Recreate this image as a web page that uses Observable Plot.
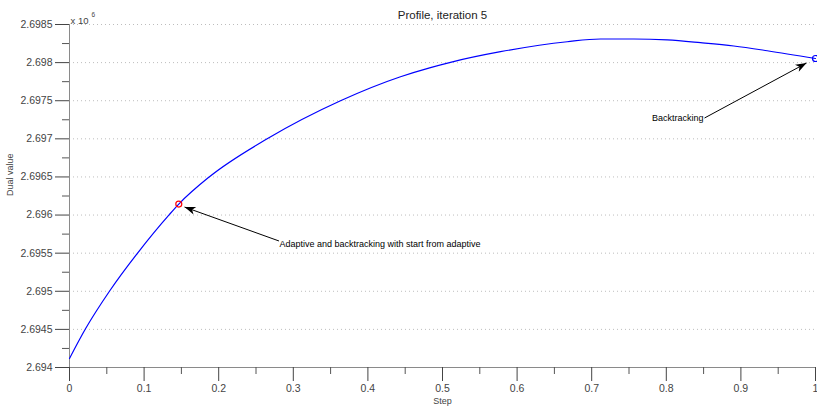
<!DOCTYPE html>
<html><head><meta charset="utf-8">
<script src="https://cdn.jsdelivr.net/npm/d3@7"></script>
<script src="https://cdn.jsdelivr.net/npm/@observablehq/plot@0.6"></script>
<style>body{margin:0;background:#fff} #chart svg{display:block}</style>
</head><body><div id="chart"></div>
<script>
// Data (values in units of 10^6)
const steps = [0, 0.02145, 0.05402, 0.09155, 0.13405, 0.14651, 0.18767, 0.26501, 0.36327, 0.4437, 0.48391, 0.51072, 0.57775, 0.66716, 0.7118, 0.75643, 0.80121, 0.84584, 0.89048, 0.93525, 1.0];
const dualValues = [2.694119, 2.694508, 2.695007, 2.695505, 2.696009, 2.696144, 2.696503, 2.697001, 2.6975, 2.697815, 2.697935, 2.698004, 2.698143, 2.698274, 2.69831, 2.69831, 2.698297, 2.698261, 2.698218, 2.698156, 2.698054];

const markerSteps = [0.14651, 1.0];
const markerValues = [2.696144, 2.698054];
const markerColors = ["#ff0000", "#0000ff"];

const yTicks = [2.694, 2.6945, 2.695, 2.6955, 2.696, 2.6965, 2.697, 2.6975, 2.698, 2.6985];
const yTickLabels = ["2.694", "2.6945", "2.695", "2.6955", "2.696", "2.6965", "2.697", "2.6975", "2.698", "2.6985"];
const yMinorTicks = [2.69425, 2.69475, 2.69525, 2.69575, 2.69625, 2.69675, 2.69725, 2.69775, 2.69825];
const xTicks = [0, 0.1, 0.2, 0.3, 0.4, 0.5, 0.6, 0.7, 0.8, 0.9, 1];
const xTickLabels = ["0", "0.1", "0.2", "0.3", "0.4", "0.5", "0.6", "0.7", "0.8", "0.9", "1"];
const xMinorTicks = [0.05, 0.15, 0.25, 0.35, 0.45, 0.55, 0.65, 0.75, 0.85, 0.95];

const titleText = "Profile, iteration 5";
const xLabel = "Step";
const yLabel = "Dual value";
const exponentBase = "x 10";
const exponentPower = "6";

const annotationTexts = ["Adaptive and backtracking with start from adaptive", "Backtracking"];
const annotationTextX = [0.2815, 0.8499];
const annotationTextY = [2.695619, 2.697273];
const arrowFromX = [0.2808, 0.8512];
const arrowFromY = [2.69566, 2.697273];
const arrowToX = [0.1542, 0.988];
const arrowToY = [2.696105, 2.697995];

const curve = steps.map((s, i) => ({step: s, value: dualValues[i]}));
const markers = markerSteps.map((s, i) => ({step: s, value: markerValues[i], color: markerColors[i]}));
const annotations = annotationTexts.map((t, i) => ({text: t, x: annotationTextX[i], y: annotationTextY[i]}));
const arrows = arrowFromX.map((x, i) => ({x1: x, y1: arrowFromY[i], x2: arrowToX[i], y2: arrowToY[i]}));

const font = "'Liberation Sans', Arial, Helvetica, sans-serif";

function filledArrow(color, context) {
  const m = d3.create("svg:marker")
    .attr("viewBox", "-12 -5 13 10")
    .attr("markerWidth", 13)
    .attr("markerHeight", 10)
    .attr("markerUnits", "userSpaceOnUse")
    .attr("refX", 0).attr("refY", 0)
    .attr("orient", "auto");
  m.append("path").attr("d", "M0,0L-11,-4L-8,0L-11,4Z").attr("fill", color).attr("stroke", "none");
  return m.node();
}

const noLabel = () => "";

const chart = Plot.plot({
  width: 817,
  height: 407,
  marginLeft: 69,
  marginRight: 2,
  marginTop: 24,
  marginBottom: 40,
  style: {fontFamily: font, background: "#fff", overflow: "visible"},
  x: {domain: [0, 1], axis: null},
  y: {domain: [2.694, 2.6985], axis: null},
  marks: [
    Plot.ruleY(yTicks, {stroke: "#bdbdbd", strokeDasharray: "1,3"}),
    Plot.ruleX([0], {y1: 2.694, y2: 2.6985, stroke: "#8a8a8a"}),
    Plot.ruleY([2.694], {stroke: "#8a8a8a"}),
    Plot.axisY(yMinorTicks, {tickSize: 7, tickFormat: noLabel, stroke: "#555", label: null}),
    Plot.axisY(yTicks, {tickSize: 14, tickPadding: 3, tickFormat: (d) => yTickLabels[yTicks.indexOf(d)], fontSize: 10.5, color: "#444", label: null}),
    Plot.axisX(xMinorTicks, {tickSize: 7, tickFormat: noLabel, stroke: "#555", label: null}),
    Plot.axisX(xTicks, {tickSize: 14, tickPadding: 3, tickFormat: (d) => xTickLabels[xTicks.indexOf(d)], fontSize: 10.5, color: "#444", label: null}),
    Plot.line(curve, {x: "step", y: "value", stroke: "#0000ff", strokeWidth: 1.2, curve: "monotone-x"}),
    Plot.dot(markers, {x: "step", y: "value", stroke: "color", r: 3, strokeWidth: 1.2}),
    Plot.link(arrows, {x1: "x1", y1: "y1", x2: "x2", y2: "y2", stroke: "#000", strokeWidth: 1, markerEnd: filledArrow}),
    Plot.text(annotations.slice(0, 1), {x: "x", y: "y", text: "text", textAnchor: "start", fontSize: 9, fill: "#000"}),
    Plot.text(annotations.slice(1, 2), {x: "x", y: "y", text: "text", textAnchor: "end", fontSize: 9, fill: "#000"}),
    Plot.text([titleText], {frameAnchor: "top", dy: -14, fontSize: 11.5, fill: "#222"}),
    Plot.text([exponentBase], {frameAnchor: "top-left", dx: 1, dy: -7, textAnchor: "start", fontSize: 9.5, fill: "#444"}),
    Plot.text([exponentPower], {frameAnchor: "top-left", dx: 22, dy: -12, textAnchor: "start", fontSize: 6.5, fill: "#444"}),
    Plot.text([yLabel], {frameAnchor: "left", dx: -59, rotate: -90, fontSize: 9, fill: "#444"}),
    Plot.text([xLabel], {frameAnchor: "bottom", dy: 36, fontSize: 9, fill: "#444"})
  ]
});
document.getElementById("chart").append(chart);
</script>
</body></html>
